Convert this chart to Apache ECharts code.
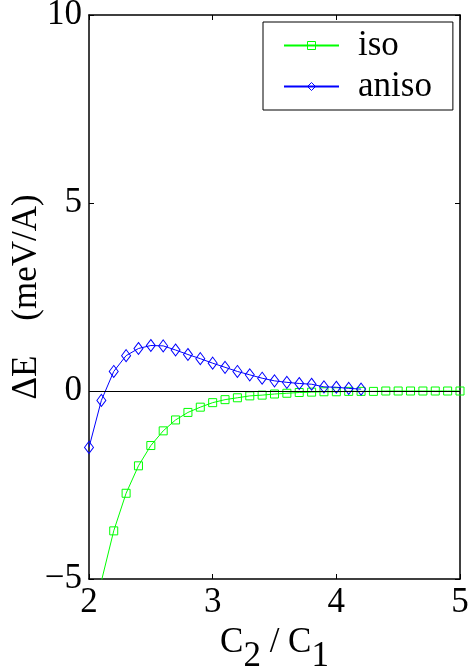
<!DOCTYPE html>
<html>
<head>
<meta charset="utf-8">
<script src="https://cdn.jsdelivr.net/npm/echarts@6/dist/echarts.min.js"></script>
<style>
  html, body { margin: 0; padding: 0; background: #fff; }
  #chart { width: 469px; height: 666px; }
</style>
</head>
<body>
<div id="chart"></div>
<script>
// Energy difference versus the C2/C1 ratio for the isotropic and anisotropic cases
const isoX = [2.1, 2.2, 2.3, 2.4, 2.5, 2.6, 2.7, 2.8, 2.9, 3.0, 3.1, 3.2, 3.3, 3.4, 3.5, 3.6,
  3.7, 3.8, 3.9, 4.0, 4.1, 4.2, 4.3, 4.4, 4.5, 4.6, 4.7, 4.8, 4.9, 5.0];
const isoY = [-5.06, -3.72, -2.72, -1.99, -1.45, -1.06, -0.77, -0.57, -0.43, -0.31, -0.23, -0.18,
  -0.13, -0.11, -0.08, -0.06, -0.04, -0.03, -0.02, -0.02, -0.01, -0.01, -0.01, 0, 0, 0, 0, 0, 0, 0];

const anisoX = [2.0, 2.1, 2.2, 2.3, 2.4, 2.5, 2.6, 2.7, 2.8, 2.9, 3.0, 3.1, 3.2, 3.3, 3.4, 3.5,
  3.6, 3.7, 3.8, 3.9, 4.0, 4.1, 4.2];
const anisoY = [-1.50, -0.25, 0.52, 0.94, 1.13, 1.21, 1.20, 1.09, 0.97, 0.86, 0.74, 0.63, 0.52,
  0.43, 0.34, 0.27, 0.23, 0.20, 0.18, 0.11, 0.10, 0.07, 0.05];

const xTicks = { min: 2, max: 5, interval: 1 };
const yTicks = { min: -5, max: 10, interval: 5 };

const FONT = "'Times New Roman', 'Liberation Serif', 'DejaVu Serif', Times, serif";
const pair = (xs, ys) => xs.map((x, i) => [x, ys[i]]);

const chart = echarts.init(document.getElementById('chart'));

const axisLine = { show: true, onZero: false, lineStyle: { color: '#000', width: 1.5 } };
const tick = { show: true, inside: true, length: 5, lineStyle: { color: '#000', width: 1 } };
const label = {
  color: '#000', fontFamily: FONT, fontSize: 35,
  formatter: (v) => String(v).replace('-', '\u2212')
};

const isoStyle = { color: 'rgba(0,0,0,0)', borderColor: '#00ff00', borderWidth: 1 };
const anisoStyle = { color: 'rgba(0,0,0,0)', borderColor: '#0000ff', borderWidth: 1 };

chart.setOption({
  animation: false,
  backgroundColor: '#fff',
  grid: { left: 89, right: 9, top: 15, bottom: 87, containLabel: false, outerBoundsMode: 'none' },
  xAxis: [
    {
      type: 'value', position: 'bottom', ...xTicks,
      axisLine, axisTick: tick, splitLine: { show: false },
      axisLabel: { ...label, margin: 6 },
      name: '{m|C}{s|2}{m| / C}{s|1}',
      nameLocation: 'middle', nameGap: 33,
      nameTextStyle: {
        rich: {
          m: { fontFamily: FONT, fontSize: 35, color: '#000', lineHeight: 40, verticalAlign: 'top' },
          s: { fontFamily: FONT, fontSize: 35, color: '#000', lineHeight: 40, verticalAlign: 'top', padding: [14, 0, 0, 0] }
        }
      }
    },
    {
      type: 'value', position: 'top', ...xTicks,
      axisLine, axisTick: tick, splitLine: { show: false },
      axisLabel: { show: false }
    }
  ],
  yAxis: [
    {
      type: 'value', position: 'left', ...yTicks,
      axisLine, axisTick: tick, splitLine: { show: false },
      axisLabel: { ...label, margin: 7 }
    },
    {
      type: 'value', position: 'right', ...yTicks,
      axisLine, axisTick: tick, splitLine: { show: false },
      axisLabel: { show: false }
    }
  ],
  legend: {
    orient: 'vertical',
    left: 263, top: 22,
    padding: [6, 21, 6, 20],
    itemWidth: 55, itemHeight: 10, itemGap: 6,
    borderColor: '#000', borderWidth: 1,
    backgroundColor: '#fff',
    textStyle: { color: '#000', fontFamily: FONT, fontSize: 35, lineHeight: 35, padding: [0, 0, 0, 14] },
    data: [
      { name: 'iso', itemStyle: isoStyle },
      { name: 'aniso', itemStyle: anisoStyle }
    ]
  },
  graphic: [
    {
      type: 'text',
      x: 27, y: 297, rotation: Math.PI / 2,
      style: {
        text: 'ΔE    (meV/A)', fontFamily: FONT, fontSize: 35, fill: '#000',
        align: 'center', verticalAlign: 'middle'
      }
    }
  ],
  series: [
    {
      name: 'iso', type: 'line', data: pair(isoX, isoY),
      clip: true,
      symbol: 'rect', symbolSize: 8,
      itemStyle: isoStyle,
      lineStyle: { color: '#00ff00', width: 1 },
      z: 3
    },
    {
      name: 'aniso', type: 'line', data: pair(anisoX, anisoY),
      clip: true,
      symbol: 'diamond', symbolSize: [9, 12],
      itemStyle: anisoStyle,
      lineStyle: { color: '#0000ff', width: 1 },
      z: 4,
      markLine: {
        silent: true, symbol: 'none', label: { show: false },
        lineStyle: { color: '#000', width: 1, type: 'solid' },
        data: [{ yAxis: 0 }]
      }
    }
  ]
});
</script>
</body>
</html>
